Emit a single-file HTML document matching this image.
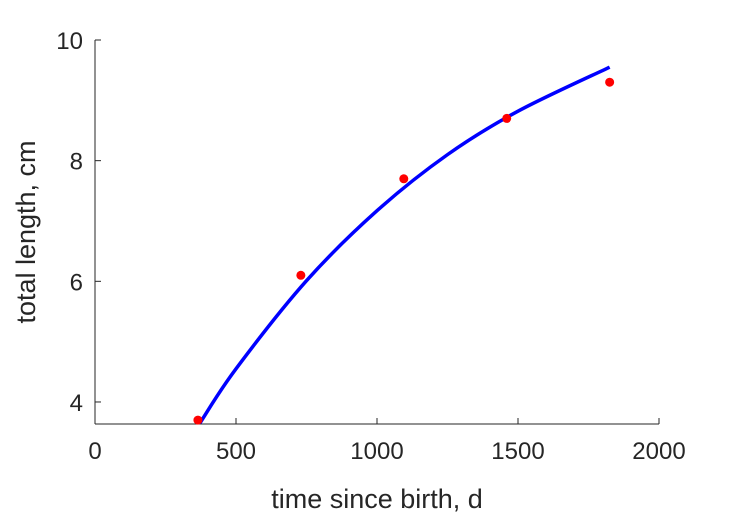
<!DOCTYPE html>
<html><head><meta charset="utf-8"><style>
html,body{margin:0;padding:0;background:#fff;}
svg{display:block;font-family:"Liberation Sans",sans-serif;}
</style></head><body>
<svg id="chart" width="729" height="521" viewBox="0 0 729 521" xmlns="http://www.w3.org/2000/svg">
<g id="axes"></g>
<g id="marks"></g>
<text x="377" y="508" font-size="27" fill="#262626" text-anchor="middle">time since birth, d</text>
<text x="0" y="0" font-size="27" fill="#262626" text-anchor="middle" transform="translate(35,232) rotate(-90)">total length, cm</text>
</svg>
<script>
const xTicks = [0, 500, 1000, 1500, 2000];
const yTicks = [4, 6, 8, 10];
const obsDays = [365, 730, 1095, 1460, 1825];
const obsLength = [3.7, 6.1, 7.7, 8.7, 9.3];
const fitDays = [372, 500, 750, 1000, 1250, 1500, 1825];
const fitLength = [3.65, 4.55, 6.01, 7.17, 8.10, 8.82, 9.55];

const X0 = 95, X1 = 659, Y0 = 424, Y1 = 40;
const xMin = 0, xMax = 2000, yMin = 3.635, yMax = 10;
const xs = v => X0 + (v - xMin) / (xMax - xMin) * (X1 - X0);
const ys = v => Y0 - (v - yMin) / (yMax - yMin) * (Y0 - Y1);
const NS = "http://www.w3.org/2000/svg";
const axes = document.getElementById('axes');
const marks = document.getElementById('marks');
function mk(tag, attrs, parent) {
  const e = document.createElementNS(NS, tag);
  for (const k in attrs) e.setAttribute(k, attrs[k]);
  parent.appendChild(e);
  return e;
}
const xa = mk('line', {x1: X0, y1: Y0, x2: X1, y2: Y0, stroke: '#262626', 'stroke-width': 1}, axes);


const ya = mk('line', {x1: X0, y1: Y0, x2: X0, y2: Y1, stroke: '#262626', 'stroke-width': 1}, axes);


xTicks.forEach(t => {
  const x = xs(t);
  const tk = mk('line', {x1: x, y1: Y0, x2: x, y2: Y0 - 6, stroke: '#262626'}, axes);
  
  
  const lb = mk('text', {x: x, y: Y0 + 35, 'font-size': 24, fill: '#262626', 'text-anchor': 'middle'}, axes);
  lb.textContent = t;
  
  
});
yTicks.forEach(t => {
  const y = ys(t);
  const tk = mk('line', {x1: X0, y1: y, x2: X0 + 6, y2: y, stroke: '#262626'}, axes);
  
  
  const lb = mk('text', {x: X0 - 12, y: y + 9, 'font-size': 24, fill: '#262626', 'text-anchor': 'end'}, axes);
  lb.textContent = t;
  
  
});
// smooth curve through fit samples (Catmull-Rom)
const pts = fitDays.map((d, i) => [xs(d), ys(fitLength[i])]);
let d = 'M' + pts[0][0] + ',' + pts[0][1];
for (let i = 0; i < pts.length - 1; i++) {
  const p0 = pts[Math.max(0, i - 1)], p1 = pts[i], p2 = pts[i + 1], p3 = pts[Math.min(pts.length - 1, i + 2)];
  const c1 = [p1[0] + (p2[0] - p0[0]) / 6, p1[1] + (p2[1] - p0[1]) / 6];
  const c2 = [p2[0] - (p3[0] - p1[0]) / 6, p2[1] - (p3[1] - p1[1]) / 6];
  d += ' C' + c1 + ' ' + c2 + ' ' + p2;
}
const line = mk('path', {d: d, fill: 'none', stroke: '#0000ff', 'stroke-width': 3.5}, marks);


obsDays.forEach((t, i) => {
  const c = mk('circle', {cx: xs(t), cy: ys(obsLength[i]), r: 4.5, fill: '#ff0000'}, marks);
  
  
});
</script>
</body></html>
